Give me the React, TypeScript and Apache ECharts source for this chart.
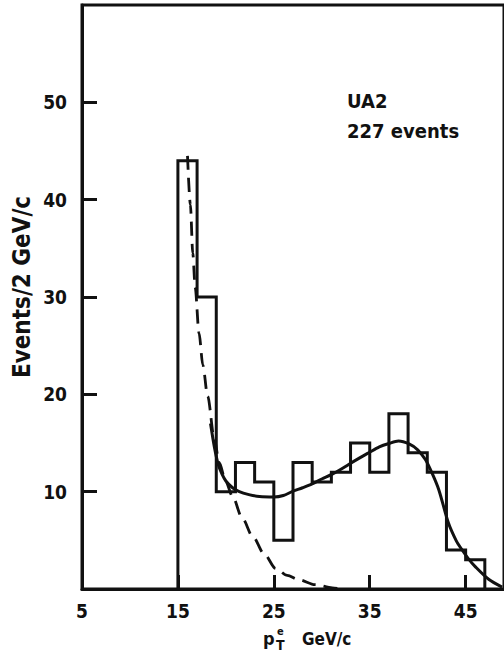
import React, { useEffect, useRef } from "react";
import * as echarts from "echarts";

// Histogram: 2 GeV/c bins starting at 15 GeV/c
const binStart = 15;
const binWidth = 2;
const counts = [44, 30, 10, 13, 11, 5, 13, 11, 12, 15, 12, 18, 14, 12, 4, 3];

// Dashed curve (background fall-off)
const dashedX = [16.0, 16.3, 16.55, 16.8, 17.2, 17.6, 18.1, 18.8, 19.3, 20.0, 20.7, 21.7, 22.8, 24.0, 25.2, 26.4, 27.6, 29.3, 31.1, 32.0];
const dashedY = [44.5, 39.5, 34.5, 31.0, 26.3, 23.0, 19.8, 15.4, 13.0, 11.0, 9.5, 7.3, 5.4, 3.6, 2.1, 1.4, 0.95, 0.45, 0.12, 0.0];

// Solid curve (total fit)
const solidX = [18.4, 18.8, 19.2, 19.6, 20.0, 20.7, 21.4, 22.4, 23.5, 25.0, 26.0, 26.9, 28.0, 29.0, 30.0, 31.1, 32.0, 32.8, 34.0, 34.9, 36.0, 37.0, 38.0, 39.1, 40.0, 40.8, 41.5, 42.2, 43.2, 44.0, 44.6, 45.3, 46.0, 47.4, 48.8];
const solidY = [17.0, 14.6, 12.8, 11.8, 11.1, 10.4, 10.0, 9.7, 9.5, 9.45, 9.6, 10.0, 10.4, 10.8, 11.3, 11.8, 12.3, 12.8, 13.5, 14.0, 14.6, 14.95, 15.2, 14.9, 14.3, 13.3, 11.9, 10.2, 6.8, 5.0, 4.06, 3.1, 2.3, 1.0, 0.2];

const xTicks = [5, 15, 25, 35, 45];
const yTicks = [10, 20, 30, 40, 50];

const yTitle = "Events/2 GeV/c";
const xTitleMain = "p";
const xTitleSub = "T";
const xTitleSup = "e";
const xTitleUnit = "GeV/c";
const labelLine1 = "UA2";
const labelLine2 = "227 events";

const FONT = "'DejaVu Sans Condensed', 'Liberation Sans Narrow', 'DejaVu Sans', sans-serif";
const INK = "#111111";

export default function App() {
  const ref = useRef<HTMLDivElement>(null);

  useEffect(() => {
    if (!ref.current) return;
    const chart = echarts.init(ref.current, null, { renderer: "svg" });

    const histPts: number[][] = [[binStart, 0]];
    counts.forEach((c, i) => {
      const x0 = binStart + i * binWidth;
      histPts.push([x0, c], [x0 + binWidth, c]);
    });
    histPts.push([binStart + counts.length * binWidth, 0]);

    const dashed = dashedX.map((x, i) => [x, dashedY[i]]);
    const solid = solidX.map((x, i) => [x, solidY[i]]);

    const axisFont = { fontFamily: FONT, fontWeight: "bold" as const, color: INK, fontSize: 19 };

    chart.setOption({
      animation: false,
      backgroundColor: "#ffffff",
      grid: {
        left: 82,
        top: 5,
        width: 424,
        height: 584,
        show: true,
        borderColor: INK,
        borderWidth: 3,
        backgroundColor: "transparent",
      },
      xAxis: {
        type: "value",
        min: 5,
        max: 49,
        interval: 10,
        axisLine: { show: true, lineStyle: { color: INK, width: 3 } },
        axisTick: { show: true, inside: true, length: 14, customValues: xTicks, lineStyle: { color: INK, width: 3 } },
        axisLabel: { ...axisFont, margin: 12, customValues: xTicks },
        splitLine: { show: false },
      },
      yAxis: {
        type: "value",
        min: 0,
        max: 60,
        interval: 10,
        axisLine: { show: true, lineStyle: { color: INK, width: 3 } },
        axisTick: { show: true, inside: true, length: 15, customValues: yTicks, lineStyle: { color: INK, width: 3 } },
        axisLabel: { ...axisFont, margin: 15, customValues: yTicks },
        splitLine: { show: false },
      },
      series: [
        {
          type: "line",
          data: histPts,
          symbol: "none",
          lineStyle: { color: INK, width: 3, join: "miter" },
          clip: false,
        },
        {
          type: "line",
          data: dashed,
          symbol: "none",
          smooth: 0.3,
          smoothMonotone: "x",
          lineStyle: { color: INK, width: 2.8, type: [14, 8] },
        },
        {
          type: "line",
          data: solid,
          symbol: "none",
          smooth: 0.3,
          lineStyle: { color: INK, width: 3 },
        },
      ],
      graphic: [
        {
          type: "text",
          x: 22,
          y: 287,
          rotation: Math.PI / 2,
          style: { text: yTitle, fill: INK, font: `bold 24px ${FONT}`, align: "center", verticalAlign: "middle" },
        },
        {
          type: "text",
          x: 263,
          y: 638,
          style: { text: xTitleMain, fill: INK, font: `bold 18px ${FONT}`, align: "left", verticalAlign: "middle" },
        },
        {
          type: "text",
          x: 276,
          y: 645,
          style: { text: xTitleSub, fill: INK, font: `bold 14px ${FONT}`, align: "left", verticalAlign: "middle" },
        },
        {
          type: "text",
          x: 277,
          y: 631,
          style: { text: xTitleSup, fill: INK, font: `bold 11px ${FONT}`, align: "left", verticalAlign: "middle" },
        },
        {
          type: "text",
          x: 302,
          y: 639,
          style: { text: xTitleUnit, fill: INK, font: `bold 17px ${FONT}`, align: "left", verticalAlign: "middle" },
        },
        {
          type: "text",
          x: 347,
          y: 101,
          style: { text: labelLine1, fill: INK, font: `bold 20px ${FONT}`, align: "left", verticalAlign: "middle" },
        },
        {
          type: "text",
          x: 347,
          y: 131,
          style: { text: labelLine2, fill: INK, font: `bold 20px ${FONT}`, align: "left", verticalAlign: "middle" },
        },
      ],
    });

    return () => chart.dispose();
  }, []);

  return (
    <div
      ref={ref}
      style={{ position: "fixed", left: 0, top: 0, width: 504, height: 655, background: "#fff" }}
    />
  );
}
